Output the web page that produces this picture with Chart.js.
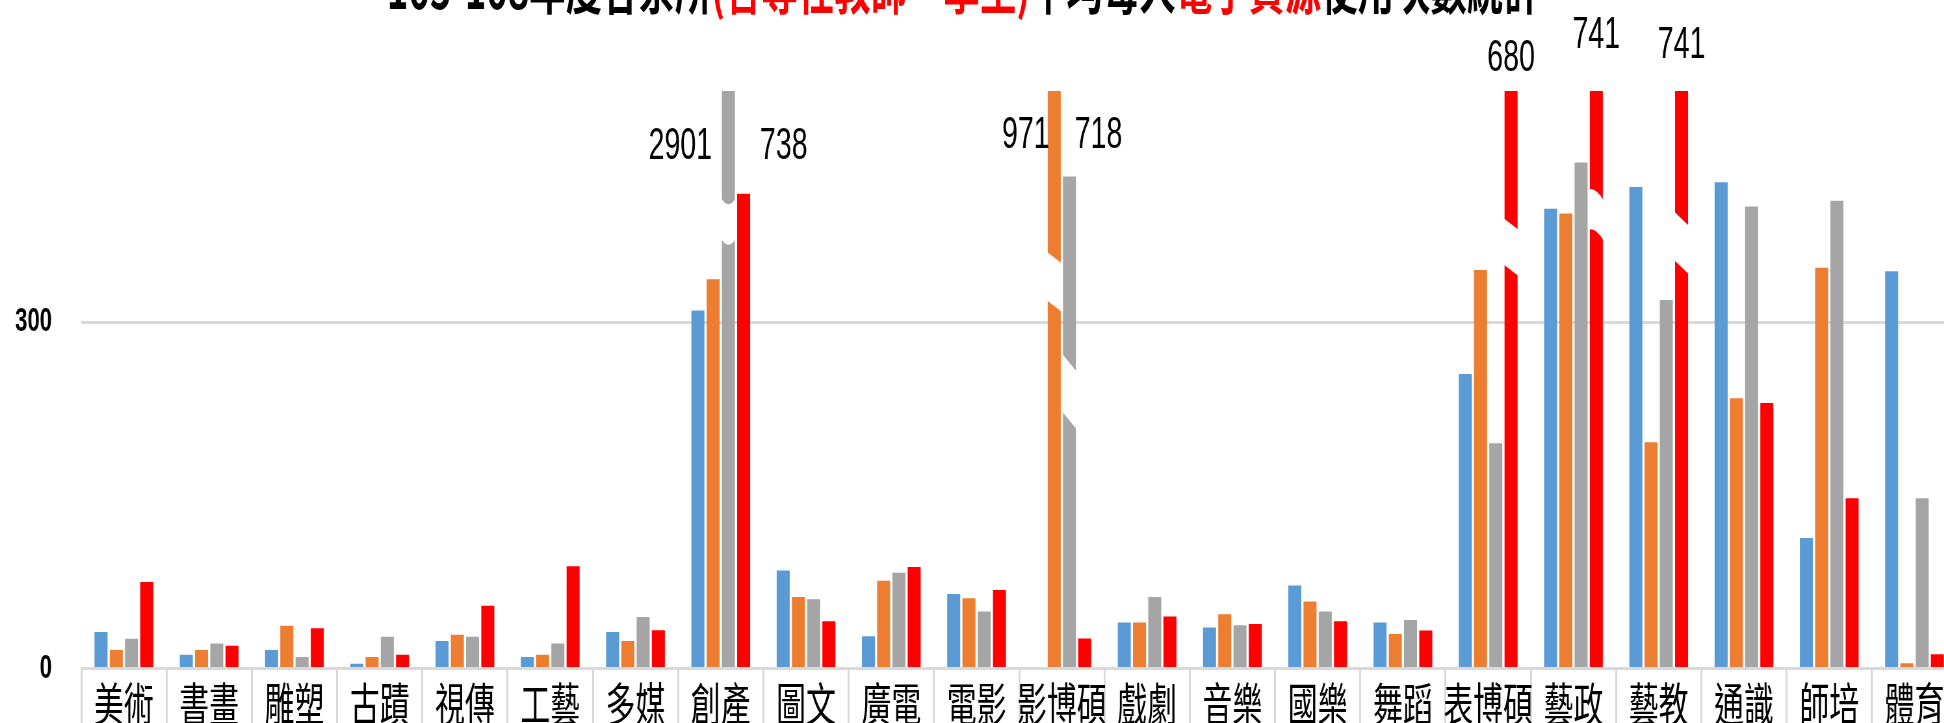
<!DOCTYPE html>
<html>
<head>
<meta charset="utf-8">
<script src="https://cdn.jsdelivr.net/npm/chart.js@4.4.0/dist/chart.umd.min.js"></script>
<style>
  html, body { margin: 0; padding: 0; background: #fff; overflow: hidden; width: 1944px; height: 723px; }
  /* the source picture is squeezed sideways, so the whole canvas is too */
  #wrap { position: absolute; left: 0; top: -50px; transform: scaleX(0.65); transform-origin: 0 0; }
  canvas { display: block; }
</style>
</head>
<body>
<div id="wrap"><canvas id="chart" width="3011" height="784"></canvas></div>
<script>
const categories = ["美術", "書畫", "雕塑", "古蹟", "視傳", "工藝", "多媒", "創產", "圖文", "廣電", "電影",
  "影博碩", "戲劇", "音樂", "國樂", "舞蹈", "表博碩", "藝政", "藝教", "通識", "師培", "體育"];
const years = ["105年", "106年", "107年", "108年"];
const colors = ["#5b9bd5", "#ed7d31", "#a5a5a5", "#ff0000"];

// bars above 500 run off the top of the axis; 創產/108 and 影博碩/107 are drawn shortened in the source
const y105 = [31.6, 11.9, 16.2, 4.3, 23.8, 10.1, 31.6, 310, 85, 28, 64.5, 0, 40, 35.5, 72, 40, 255, 398, 417, 421, 113, 344];
const y106 = [16.2, 16.2, 37, 10.1, 29.3, 11.9, 23.8, 337, 62, 76, 61, 971, 40, 47, 58, 30, 345, 394, 196, 234, 347, 4.6];
const y107 = [25.8, 21.7, 10.1, 27.5, 27.5, 21.7, 44.6, 2901, 60, 83, 49.5, 426, 62, 37.6, 49.5, 42, 195, 438, 319, 400, 405, 147.5];
const y108 = [75, 19.7, 35, 11.9, 54.5, 88.7, 33.3, 411, 41, 88, 68, 26, 45, 38.7, 41, 33, 680, 741, 741, 230, 147.5, 12.4];

const yTicks = [0, 300];
const yMax = 500;

// real totals written next to the cut bars
const bigValues = [
  { cat: "創產", series: 2, text: "2901", side: "left", at: 452 },
  { cat: "創產", series: 3, text: "738", side: "right", at: 452 },
  { cat: "影博碩", series: 1, text: "971", side: "left", at: 461 },
  { cat: "影博碩", series: 2, text: "718", side: "right", at: 461 },
  { cat: "表博碩", series: 3, text: "680", side: "top", at: 528 },
  { cat: "藝政", series: 3, text: "741", side: "top", at: 548 },
  { cat: "藝教", series: 3, text: "741", side: "top", at: 539 },
];

// white break marks cut into the long bars (axis values)
const breakMarks = [
  { cat: "創產", series: 2, hi: 408, lo: 373, slant: 0, sag: 7 },
  { cat: "影博碩", series: 1, hi: 361, lo: 319, slant: 12, sag: 0 },
  { cat: "影博碩", series: 2, hi: 273, lo: 223, slant: 19, sag: 0 },
  { cat: "表博碩", series: 3, hi: 390, lo: 350, slant: 12, sag: 0 },
  { cat: "藝政", series: 3, hi: 415, lo: 380, slant: 12, sag: -4 },
  { cat: "藝教", series: 3, hi: 396, lo: 354, slant: 15, sag: 0 },
];

const titleParts = [
  { text: "105-108年度各系所", color: "#000" },
  { text: "(含專任教師、學生)", color: "#ff0000" },
  { text: "平均每人", color: "#000" },
  { text: "電子資源", color: "#ff0000" },
  { text: "使用次數統計", color: "#000" },
];

const titlePlugin = {
  id: "title",
  afterDraw(chart) {
    const ctx = chart.ctx;
    ctx.save();
    ctx.font = 'bold 56px "Noto Sans CJK TC", sans-serif';
    ctx.textBaseline = "alphabetic";
    const total = titleParts.reduce((s, p) => s + ctx.measureText(p.text).width, 0);
    let x = 1482 - total / 2;
    titleParts.forEach((p) => {
      ctx.fillStyle = p.color;
      ctx.fillText(p.text, x, 59);
      x += ctx.measureText(p.text).width;
    });
    ctx.restore();
  },
};

const breakPlugin = {
  id: "breaks",
  afterDatasetsDraw(chart) {
    const ctx = chart.ctx;
    const yScale = chart.scales.y;
    ctx.save();
    breakMarks.forEach((b) => {
      const bar = chart.getDatasetMeta(b.series).data[categories.indexOf(b.cat)];
      const x0 = bar.x - bar.width / 2 - 2;
      const x1 = bar.x + bar.width / 2 + 2;
      const xm = (x0 + x1) / 2;
      const yT = yScale.getPixelForValue(b.hi);
      const yB = yScale.getPixelForValue(b.lo);
      ctx.beginPath();
      ctx.moveTo(x0, yT);
      ctx.quadraticCurveTo(xm, yT + b.slant / 2 + 2 * b.sag, x1, yT + b.slant);
      ctx.lineTo(x1, yB + b.slant);
      ctx.quadraticCurveTo(xm, yB + b.slant / 2 + 2 * b.sag, x0, yB);
      ctx.closePath();
      ctx.fillStyle = "#fff";
      ctx.fill();
    });

    ctx.font = '44px "Liberation Sans", sans-serif';
    ctx.fillStyle = "#000";
    ctx.textBaseline = "middle";
    bigValues.forEach((v) => {
      const bar = chart.getDatasetMeta(v.series).data[categories.indexOf(v.cat)];
      const y = yScale.getPixelForValue(v.at);
      let x = bar.x;
      if (v.side === "left") {
        ctx.textAlign = "right";
        x = bar.x - bar.width / 2 - (v.text.length > 3 ? 15 : -3);
      } else if (v.side === "right") {
        ctx.textAlign = "left";
        x = bar.x + bar.width / 2 + (v.cat === "創產" ? 15 : -2);
      } else {
        ctx.textAlign = "center";
      }
      ctx.fillText(v.text, x, y);
    });
    ctx.restore();
  },
};

const seriesData = [y105, y106, y107, y108];

new Chart(document.getElementById("chart"), {
  type: "bar",
  data: {
    labels: categories,
    datasets: seriesData.map((d, i) => ({
      label: years[i],
      data: d,
      backgroundColor: colors[i],
      borderWidth: 0,
      categoryPercentage: 0.715,
      barPercentage: 0.855,
      clip: 0,
    })),
  },
  options: {
    responsive: false,
    animation: false,
    layout: { padding: { top: 141, left: 0, right: 0, bottom: 0 } },
    plugins: { legend: { display: false }, tooltip: { enabled: false } },
    scales: {
      x: {
        afterFit(scale) { scale.height = 56; },
        grid: { offset: true, drawOnChartArea: false, drawTicks: true, tickLength: 60, color: "#d9d9d9", lineWidth: 3 },
        border: { display: true, color: "#d9d9d9", width: 3 },
        ticks: {
          autoSkip: false,
          maxRotation: 0,
          padding: -53,
          color: "#000",
          font: { family: '"Noto Sans CJK TC", sans-serif', size: 46 },
        },
      },
      y: {
        min: 0,
        max: yMax,
        afterFit(scale) { scale.width = 125; },
        afterBuildTicks(scale) { scale.ticks = yTicks.map((v) => ({ value: v })); },
        grid: { color: "#d9d9d9", lineWidth: 3, drawTicks: false },
        border: { display: false },
        ticks: {
          padding: 45,
          color: "#000",
          font: { family: '"Liberation Sans", sans-serif', size: 34, weight: "bold" },
        },
      },
    },
  },
  plugins: [titlePlugin, breakPlugin],
});
</script>
</body>
</html>
